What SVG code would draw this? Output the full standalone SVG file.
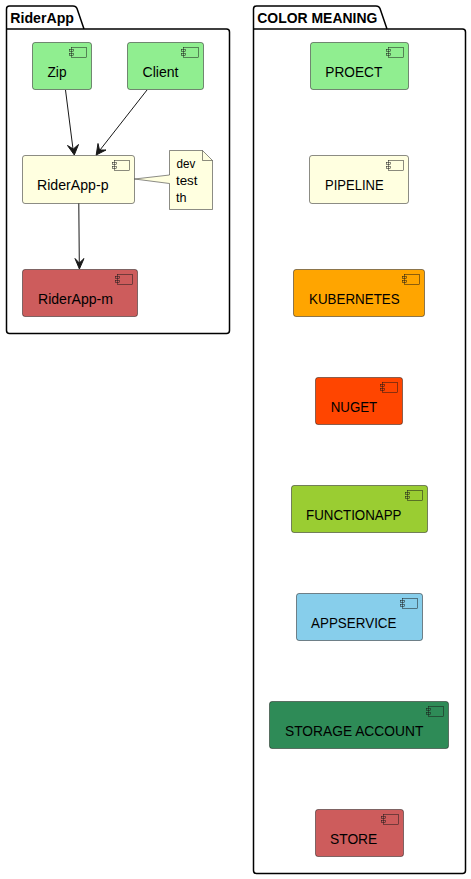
<svg xmlns="http://www.w3.org/2000/svg" width="471" height="879" viewBox="0 0 471 879">
<style>
text{font-family:"Liberation Sans",Arial,sans-serif;fill:#000}
.pk{fill:none;stroke:#000;stroke-width:1.5}
.pt{font-size:14px;font-weight:bold}
.box{stroke:#181818;stroke-width:.5}
.lb{font-size:14px}
.ic{fill:none;stroke:#181818;stroke-width:.5}
.nt{font-size:13px}
.cn{fill:none;stroke:#181818;stroke-width:1}
.ah{fill:#181818;stroke:#181818;stroke-width:1}
</style>
<defs>
<g id="icon">
<rect class="ic" x="-20" y="5" width="15" height="10"/>
<rect class="ic" x="-22" y="7" width="4" height="2"/>
<rect class="ic" x="-22" y="11" width="4" height="2"/>
</g>
</defs>
<rect width="471" height="879" fill="#fff"/>
<g id="pkg-riderapp">
<path class="pk" d="M9.5,6 L73,6 Q76,6 77,8.5 L84,29 L226.5,29 Q229.5,29 229.5,32 L229.5,330.5 Q229.5,333.5 226.5,333.5 L9.5,333.5 Q6.5,333.5 6.5,330.5 L6.5,9 Q6.5,6 9.5,6 Z M6.5,29 L84,29"/>
<text class="pt" x="10.3" y="23" textLength="63.7" lengthAdjust="spacingAndGlyphs">RiderApp</text>
</g>
<g id="pkg-color">
<path class="pk" d="M256.5,6 L376,6 Q379,6 380,8.5 L387,29 L462.5,29 Q465.5,29 465.5,32 L465.5,870.5 Q465.5,873.5 462.5,873.5 L256.5,873.5 Q253.5,873.5 253.5,870.5 L253.5,9 Q253.5,6 256.5,6 Z M253.5,29 L387,29"/>
<text class="pt" x="257.3" y="23" textLength="120" lengthAdjust="spacingAndGlyphs">COLOR MEANING</text>
</g>
<g id="zip"><rect class="box" x="32.5" y="42.5" width="59" height="47" rx="2.5" fill="#90EE90"/><use href="#icon" transform="translate(91.5,42.5)"/><text class="lb" x="47.5" y="77" textLength="19" lengthAdjust="spacingAndGlyphs">Zip</text></g>
<g id="client"><rect class="box" x="127.5" y="42.5" width="76" height="47" rx="2.5" fill="#90EE90"/><use href="#icon" transform="translate(203.5,42.5)"/><text class="lb" x="142.5" y="77" textLength="36" lengthAdjust="spacingAndGlyphs">Client</text></g>
<g id="rider-p"><rect class="box" x="22.5" y="155.5" width="112" height="48" rx="2.5" fill="#FFFFE0"/><use href="#icon" transform="translate(134.5,155.5)"/><text class="lb" x="37" y="190" textLength="71.5" lengthAdjust="spacingAndGlyphs">RiderApp-p</text></g>
<g id="rider-m"><rect class="box" x="22.5" y="269.5" width="115" height="47" rx="2.5" fill="#CD5C5C"/><use href="#icon" transform="translate(137.5,269.5)"/><text class="lb" x="38" y="304" textLength="75" lengthAdjust="spacingAndGlyphs">RiderApp-m</text></g>
<g id="note">
<path d="M169.5,150.5 L202.5,150.5 L212.5,160.5 L212.5,209.5 L169.5,209.5 L169.5,183.5 L134.5,179 L169.5,175 Z" fill="#FFFFE0" stroke="#181818" stroke-width=".5"/>
<path d="M202.5,150.5 L202.5,160.5 L212.5,160.5" fill="none" stroke="#181818" stroke-width=".5"/>
<text class="nt" x="176.5" y="168" textLength="18.7" lengthAdjust="spacingAndGlyphs">dev</text>
<text class="nt" x="176" y="185" textLength="21.5" lengthAdjust="spacingAndGlyphs">test</text>
<text class="nt" x="176" y="201.5" textLength="10.5" lengthAdjust="spacingAndGlyphs">th</text>
</g>
<g id="connectors">
<path class="cn" d="M65.5,90 L73,149"/><path class="ah" d="M74.3,155 L78.5,144.5 L73.3,149 L67.5,145.5 Z"/>
<path class="cn" d="M147,90 L100,150"/><path class="ah" d="M96.2,155 L106,150 L99.5,150 L98,143.5 Z"/>
<path class="cn" d="M78.8,203.5 L79.3,263"/><path class="ah" d="M79.4,269 L84,258.5 L79.3,263 L75,258.5 Z"/>
</g>
<g id="proect"><rect class="box" x="310.5" y="42.5" width="98" height="47" rx="2.5" fill="#90EE90"/><use href="#icon" transform="translate(408.5,42.5)"/><text class="lb" x="325.3" y="77" textLength="57" lengthAdjust="spacingAndGlyphs">PROECT</text></g>
<g id="pipeline"><rect class="box" x="309.5" y="155.5" width="99" height="48" rx="2.5" fill="#FFFFE0"/><use href="#icon" transform="translate(408.5,155.5)"/><text class="lb" x="325" y="190" textLength="58.7" lengthAdjust="spacingAndGlyphs">PIPELINE</text></g>
<g id="kubernetes"><rect class="box" x="293.5" y="269.5" width="131" height="47" rx="2.5" fill="#FFA500"/><use href="#icon" transform="translate(424.5,269.5)"/><text class="lb" x="309" y="304" textLength="90.7" lengthAdjust="spacingAndGlyphs">KUBERNETES</text></g>
<g id="nuget"><rect class="box" x="315.5" y="377.5" width="87" height="47" rx="2.5" fill="#FF4500"/><use href="#icon" transform="translate(402.5,377.5)"/><text class="lb" x="330.7" y="412" textLength="46.5" lengthAdjust="spacingAndGlyphs">NUGET</text></g>
<g id="functionapp"><rect class="box" x="291.5" y="485.5" width="136" height="47" rx="2.5" fill="#9ACD32"/><use href="#icon" transform="translate(427.5,485.5)"/><text class="lb" x="306" y="520" textLength="95.5" lengthAdjust="spacingAndGlyphs">FUNCTIONAPP</text></g>
<g id="appservice"><rect class="box" x="296.5" y="593.5" width="126" height="47" rx="2.5" fill="#87CEEB"/><use href="#icon" transform="translate(422.5,593.5)"/><text class="lb" x="311" y="628" textLength="85.5" lengthAdjust="spacingAndGlyphs">APPSERVICE</text></g>
<g id="storage"><rect class="box" x="269.5" y="701.5" width="179" height="47" rx="2.5" fill="#2E8B57"/><use href="#icon" transform="translate(448.5,701.5)"/><text class="lb" x="285" y="736" textLength="138.3" lengthAdjust="spacingAndGlyphs">STORAGE ACCOUNT</text></g>
<g id="store"><rect class="box" x="315.5" y="809.5" width="88" height="47" rx="2.5" fill="#CD5C5C"/><use href="#icon" transform="translate(403.5,809.5)"/><text class="lb" x="330" y="844" textLength="47.3" lengthAdjust="spacingAndGlyphs">STORE</text></g>
</svg>
